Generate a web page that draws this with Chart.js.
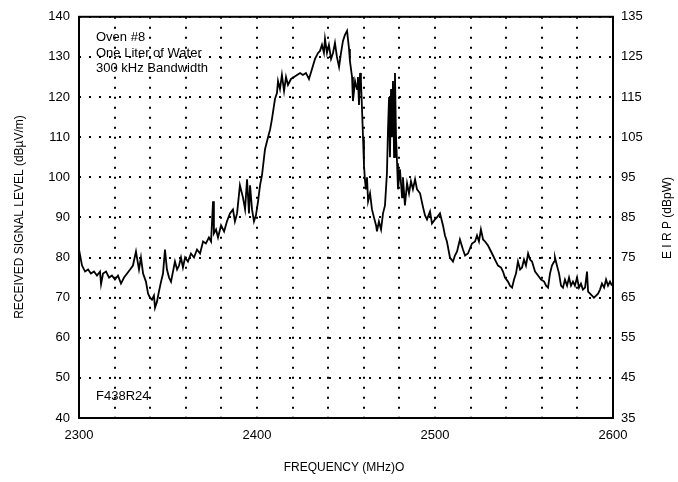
<!DOCTYPE html>
<html>
<head>
<meta charset="utf-8">
<script src="https://cdn.jsdelivr.net/npm/chart.js@4/dist/chart.umd.min.js"></script>
<style>
html,body{margin:0;padding:0;background:#fff;}
canvas{display:block;}
</style>
</head>
<body>
<canvas id="c" width="678" height="482"></canvas>
<script>
// Frequency (MHz) samples
const freqMHz = [
2300.0,2301.7,2303.4,2305.1,2306.7,2308.4,2310.1,2311.8,2312.4,2313.5,2315.2,2316.9,2318.5,2320.2,2321.9,2323.6,2325.3,2327.0,2328.7,2330.3,
2332.0,2333.7,2334.8,2336.0,2337.6,2338.8,2339.9,2341.0,2342.1,2342.7,2343.8,2344.9,2346.1,2347.2,2348.3,2349.4,2350.6,2351.7,2352.8,2353.9,
2355.1,2356.2,2357.3,2358.4,2359.6,2361.2,2362.9,2364.6,2366.3,2368.0,2369.7,2371.3,2373.0,2374.2,2375.3,2375.8,2377.0,2378.1,2379.8,2381.5,
2383.1,2384.8,2386.5,2387.6,2388.8,2390.4,2392.1,2393.3,2394.4,2395.5,2396.1,2397.2,2398.3,2399.4,2400.6,2401.7,2402.8,2404.5,2406.2,2407.4,
2408.4,2410.1,2411.2,2411.8,2412.9,2414.0,2415.2,2416.3,2417.4,2419.1,2420.8,2422.5,2424.2,2425.8,2427.5,2429.2,2430.9,2432.6,2434.3,2435.4,
2436.5,2437.6,2438.2,2439.3,2440.4,2441.6,2442.7,2443.8,2444.9,2446.1,2447.2,2448.3,2449.4,2450.6,2451.7,2452.2,2453.4,2453.9,2455.1,2456.2,
2456.7,2457.3,2457.9,2458.4,2459.0,2459.6,2460.1,2460.7,2461.2,2461.8,2462.4,2463.5,2464.6,2465.7,2466.9,2467.4,2468.5,2469.7,2470.8,2471.9,
2473.0,2473.6,2474.2,2474.7,2475.3,2475.8,2476.4,2477.0,2477.5,2478.1,2478.7,2479.2,2480.3,2481.5,2482.0,2483.1,2484.3,2485.4,2486.5,2487.6,
2488.8,2489.9,2491.6,2493.3,2494.4,2495.5,2497.2,2498.3,2500.0,2501.1,2502.8,2504.5,2505.6,2506.7,2508.4,2510.1,2511.2,2512.4,2514.0,2515.7,
2516.9,2518.5,2520.8,2522.5,2523.6,2524.7,2525.8,2527.0,2528.1,2529.8,2530.9,2532.6,2533.7,2535.4,2537.1,2538.2,2539.3,2541.0,2542.1,2543.3,
2544.4,2545.5,2546.6,2547.8,2548.9,2550.0,2551.1,2552.3,2553.4,2554.5,2556.2,2557.9,2559.6,2561.3,2562.4,2563.5,2564.6,2565.7,2566.9,2567.4,
2568.5,2569.7,2570.8,2571.9,2573.0,2574.2,2575.3,2576.4,2577.5,2578.6,2579.8,2580.9,2582.0,2583.1,2584.3,2585.4,2586.0,2587.1,2588.2,2589.3,
2590.5,2591.6,2592.7,2593.8,2595.0,2596.1,2597.2,2598.3,2599.4
];
// Received signal level (dBuV/m)
const signalLevel = [
82,78,76.5,77,76,76.5,75.5,76.5,73.4,76,76.5,75,75.5,74.5,75.5,73.5,75,76,77,78,
81.5,77,80,76,74,71,70,69.5,70.5,67.5,69,71.5,74,76,82,77,75,74,76.5,79,
77,78,80,77.5,80,79,81,80,82,81,84,83.5,85,84,94,86,87,85,88,86.5,
89,91,92,89,91,98,95,92,99.5,91,98,92,89,90.5,94,98,100.5,107,110,112,
114.5,119.5,121,124,122,125.5,121.5,125,123,124.5,125,125.5,126,125.5,126,124.5,127,129.5,131,131.5,
133,131,134.5,131,133,129.5,131,133.5,130,127.5,131,134,135.5,136.5,132,129,125,119,124,122,
125,118,126,124,117,109.5,103,99,97,100,94,96,92,90,88,86.5,89,87,91,93,
101,112,120,105,122,110,124,105,126,110,103.5,97,102,95,100,93,98.5,96,99,97,
99.5,97,96,92.5,90.5,89.5,91.5,88.5,89.5,90,91,88,85.5,84,80,79,80.5,81.5,84.5,82,
80.5,81,83.5,84,85.5,84,87,84.5,84,83,82,80.5,79.5,78,77.5,76.5,75,74,73,72.5,
74.5,76,79,77,77.5,79.5,78,81,79.5,79,76.5,75.5,74.5,74,73,72.5,76,78,79,80,
78,76,73,72.5,74.5,73,75,73,74,73,75,72.5,73.5,72,72.5,76.5,71.5,71,70.5,70,
70.5,71,72,73.5,72.5,74.5,73,74,73
];
const xTickLabels = [2300, 2400, 2500, 2600];
const leftRange = [40, 140];
const rightRange = [35, 135];
const annotationLines = ['Oven #8', 'One Liter of Water', '300 kHz Bandwidth'];
const figureId = 'F438R24';
const xTitle = 'FREQUENCY (MHz)O';
const yTitle = 'RECEIVED SIGNAL LEVEL (dB\u00B5V/m)';
const y2Title = 'E I R P (dBpW)';

const FONT = '"Liberation Sans", Arial, sans-serif';
const points = freqMHz.map((f, i) => ({x: f, y: signalLevel[i]}));

const textPlugin = {
  id: 'texts',
  afterDraw(chart) {
    const ctx = chart.ctx;
    const a = chart.chartArea;
    ctx.save();
    // frame
    ctx.strokeStyle = '#000';
    ctx.lineWidth = 2;
    ctx.strokeRect(a.left, a.top, a.right - a.left, a.bottom - a.top);
    ctx.fillStyle = '#000';
    ctx.textBaseline = 'middle';
    ctx.textAlign = 'left';
    ctx.font = '13px ' + FONT;
    const ys = [37, 53, 68];
    annotationLines.forEach((t, i) => ctx.fillText(t, a.left + 17, ys[i]));
    ctx.fillText(figureId, a.left + 17, 396);
    ctx.font = '12px ' + FONT;
    ctx.textAlign = 'center';
    ctx.fillText(xTitle, 344, 468);
    ctx.save();
    ctx.translate(20, 217);
    ctx.rotate(-Math.PI / 2);
    ctx.fillText(yTitle, 0, 0);
    ctx.restore();
    ctx.save();
    ctx.translate(668, 218);
    ctx.rotate(-Math.PI / 2);
    ctx.fillText(y2Title, 0, 0);
    ctx.restore();
    ctx.restore();
  }
};

new Chart(document.getElementById('c'), {
  type: 'line',
  data: {
    datasets: [{
      data: points,
      borderColor: '#000',
      borderWidth: 1.8,
      pointRadius: 0,
      tension: 0,
      fill: false,
      yAxisID: 'y'
    }]
  },
  options: {
    responsive: false,
    animation: false,
    parsing: true,
    layout: {padding: {top: 14, left: 0, right: 0, bottom: 0}},
    plugins: {legend: {display: false}, tooltip: {enabled: false}},
    scales: {
      x: {
        type: 'linear',
        min: 2300, max: 2600,
        ticks: {
          stepSize: 20,
          autoSkip: false,
          maxRotation: 0,
          padding: 10,
          color: '#000',
          font: {size: 13, family: FONT},
          callback: v => xTickLabels.includes(v) ? String(v) : ''
        },
        grid: {color: '#000', lineWidth: 2, drawTicks: false, borderDash: [2, 8]},
        border: {display: false, dash: [2, 8]},
        afterFit: s => { s.height = 64; }
      },
      y: {
        type: 'linear',
        position: 'left',
        min: leftRange[0], max: leftRange[1],
        ticks: {stepSize: 10, padding: 9, color: '#000', font: {size: 13, family: FONT}},
        grid: {color: '#000', lineWidth: 2, drawTicks: false, borderDash: [2, 8]},
        border: {display: false, dash: [2, 8]},
        afterFit: s => { s.width = 79; }
      },
      y2: {
        type: 'linear',
        position: 'right',
        min: rightRange[0], max: rightRange[1],
        ticks: {stepSize: 10, padding: 8, color: '#000', font: {size: 13, family: FONT}},
        grid: {drawOnChartArea: false, drawTicks: false},
        border: {display: false},
        afterFit: s => { s.width = 65; }
      }
    }
  },
  plugins: [textPlugin]
});
</script>
</body>
</html>
